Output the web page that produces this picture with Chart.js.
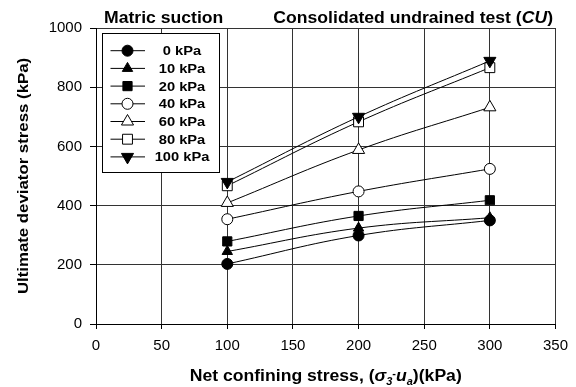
<!DOCTYPE html>
<html><head><meta charset="utf-8">
<script src="https://cdn.jsdelivr.net/npm/chart.js@4/dist/chart.umd.min.js"></script>
<style>html,body{margin:0;padding:0;background:#fff}#wrap{width:576px;height:387px;position:relative}</style>
</head><body><div id="wrap"><canvas id="c" width="576" height="387"></canvas></div>
<script>
// ---- data ----
const confining = [100, 200, 300];
const suction0 = [203, 299, 350];
const suction10 = [245, 324, 359];
const suction20 = [279, 365, 418];
const suction40 = [354, 448, 524];
const suction60 = [409, 588, 732];
const suction80 = [467, 683, 866];
const suction100 = [480, 700, 889];
const seriesLabels = ['0 kPa', '10 kPa', '20 kPa', '40 kPa', '60 kPa', '80 kPa', '100 kPa'];
const xTickValues = [0, 50, 100, 150, 200, 250, 300, 350];
const yTickValues = [0, 200, 400, 600, 800, 1000];
const yTitle = 'Ultimate deviator stress (kPa)';
const leftNote = 'Matric suction';
const rightNote = ['Consolidated undrained test (', 'CU', ')'];
const xTitleParts = ['Net confining stress, (', 'σ', '3', '-', 'u', 'a', ')(kPa)'];

const FONT = '"Liberation Sans", Arial, sans-serif';
const STRETCH = 1.1;

const seriesValues = [suction0, suction10, suction20, suction40, suction60, suction80, suction100];
const markerStyles = [
  {pointStyle: 'circle', fill: '#000', radius: 5.5, rotation: 0},
  {pointStyle: 'triangle', fill: '#000', radius: 6, rotation: 0},
  {pointStyle: 'rect', fill: '#000', radius: 6.5, rotation: 0},
  {pointStyle: 'circle', fill: '#fff', radius: 5.5, rotation: 0},
  {pointStyle: 'triangle', fill: '#fff', radius: 7, rotation: 0},
  {pointStyle: 'rect', fill: '#fff', radius: 7, rotation: 0},
  {pointStyle: 'triangle', fill: '#000', radius: 7, rotation: 180}
];

const datasets = seriesValues.map((vals, i) => ({
  label: seriesLabels[i],
  data: confining.map((x, j) => ({x: x, y: vals[j]})),
  borderColor: '#000',
  borderWidth: 1,
  tension: 0.4,
  fill: false,
  pointStyle: markerStyles[i].pointStyle,
  pointRotation: markerStyles[i].rotation,
  pointRadius: markerStyles[i].radius,
  pointHoverRadius: markerStyles[i].radius,
  pointBackgroundColor: markerStyles[i].fill,
  pointBorderColor: '#000',
  pointBorderWidth: 1,
  order: 7 - i
}));

function sText(ctx, text, x, y, sx) {
  ctx.save();
  ctx.translate(x, y);
  ctx.scale(sx, 1);
  ctx.fillText(text, 0, 0);
  ctx.restore();
}

const decorPlugin = {
  id: 'decor',
  afterDraw(chart) {
    const ctx = chart.ctx;
    const area = chart.chartArea;
    ctx.save();
    ctx.fillStyle = '#000';
    ctx.textBaseline = 'alphabetic';
    ctx.textAlign = 'left';

    // top-left note
    ctx.font = 'bold 16px ' + FONT;
    sText(ctx, leftNote, 104, 23, STRETCH);

    // top-right note, right aligned to 553
    const fN = 'bold 16px ' + FONT, fI = 'italic bold 16px ' + FONT;
    ctx.font = fN; const w1 = ctx.measureText(rightNote[0]).width * STRETCH;
    ctx.font = fI; const w2 = ctx.measureText(rightNote[1]).width * STRETCH;
    ctx.font = fN; const w3 = ctx.measureText(rightNote[2]).width * STRETCH;
    let x = 553 - (w1 + w2 + w3);
    ctx.font = fN; sText(ctx, rightNote[0], x, 23, STRETCH); x += w1;
    ctx.font = fI; sText(ctx, rightNote[1], x, 23, STRETCH); x += w2;
    ctx.font = fN; sText(ctx, rightNote[2], x, 23, STRETCH);

    // y title
    ctx.save();
    ctx.translate(28, (area.top + area.bottom) / 2);
    ctx.rotate(-Math.PI / 2);
    ctx.font = 'bold 15px ' + FONT;
    ctx.textAlign = 'center';
    ctx.scale(1.12, 1);
    ctx.fillText(yTitle, 0, 0);
    ctx.restore();

    // x title with sub/superscripts
    const parts = [
      {t: xTitleParts[0], f: 'bold 16px ' + FONT, dy: 0},
      {t: xTitleParts[1], f: 'italic bold 16px ' + FONT, dy: 0},
      {t: xTitleParts[2], f: 'italic bold 10px ' + FONT, dy: 4},
      {t: xTitleParts[3], f: 'bold 10px ' + FONT, dy: -4},
      {t: xTitleParts[4], f: 'italic bold 16px ' + FONT, dy: 0},
      {t: xTitleParts[5], f: 'italic bold 10px ' + FONT, dy: 4},
      {t: xTitleParts[6], f: 'bold 16px ' + FONT, dy: 0}
    ];
    let total = 0;
    parts.forEach(p => { ctx.font = p.f; p.w = ctx.measureText(p.t).width * STRETCH; total += p.w; });
    x = (area.left + area.right) / 2 - total / 2;
    parts.forEach(p => { ctx.font = p.f; sText(ctx, p.t, x, 381 + p.dy, STRETCH); x += p.w; });

    // legend box
    const bx = 102, by = 33.5, bw = 117, bh = 139;
    ctx.fillStyle = '#fff';
    ctx.fillRect(bx, by, bw, bh);
    ctx.strokeStyle = '#000';
    ctx.lineWidth = 1;
    ctx.strokeRect(bx + 0.5, by, bw, bh);
    const rowY0 = 50.7, rowGap = 17.7;
    seriesLabels.forEach((lab, i) => {
      const y = rowY0 + i * rowGap;
      ctx.strokeStyle = '#000';
      ctx.lineWidth = 1;
      ctx.beginPath();
      ctx.moveTo(110.5, y); ctx.lineTo(145, y);
      ctx.stroke();
      const m = markerStyles[i];
      ctx.fillStyle = m.fill;
      ctx.strokeStyle = '#000';
      Chart.helpers.drawPoint(ctx, {pointStyle: m.pointStyle, rotation: m.rotation, radius: m.radius, borderWidth: 1}, 127.5, y);
      ctx.fillStyle = '#000';
      ctx.font = 'bold 13px ' + FONT;
      ctx.textAlign = 'center';
      ctx.textBaseline = 'middle';
      sText(ctx, lab, 182, y + 1, 1.13);
    });
    ctx.restore();
  }
};

new Chart(document.getElementById('c'), {
  type: 'line',
  data: {datasets: datasets},
  plugins: [decorPlugin],
  options: {
    responsive: false,
    devicePixelRatio: 1,
    animation: false,
    events: [],
    layout: {padding: {top: 28, right: 20, left: 0, bottom: 0}},
    plugins: {legend: {display: false}, tooltip: {enabled: false}},
    scales: {
      x: {
        type: 'linear', min: 0, max: 350,
        afterBuildTicks: s => { s.ticks = xTickValues.map(v => ({value: v})); },
        afterFit: s => { s.height = 63; },
        ticks: {font: {family: FONT, size: 15}, color: '#000', padding: 8, maxRotation: 0, callback: v => String(v)},
        grid: {color: '#333', lineWidth: 1, tickLength: 5, tickColor: '#000'},
        border: {color: '#000', width: 1}
      },
      y: {
        type: 'linear', min: 0, max: 1000,
        afterBuildTicks: s => { s.ticks = yTickValues.map(v => ({value: v})); },
        afterFit: s => { s.width = 96; },
        ticks: {font: {family: FONT, size: 15}, color: '#000', padding: 8, callback: v => String(v)},
        grid: {color: '#333', lineWidth: 1, tickLength: 6, tickColor: '#000'},
        border: {color: '#000', width: 1}
      }
    }
  }
});
</script>
</body></html>
